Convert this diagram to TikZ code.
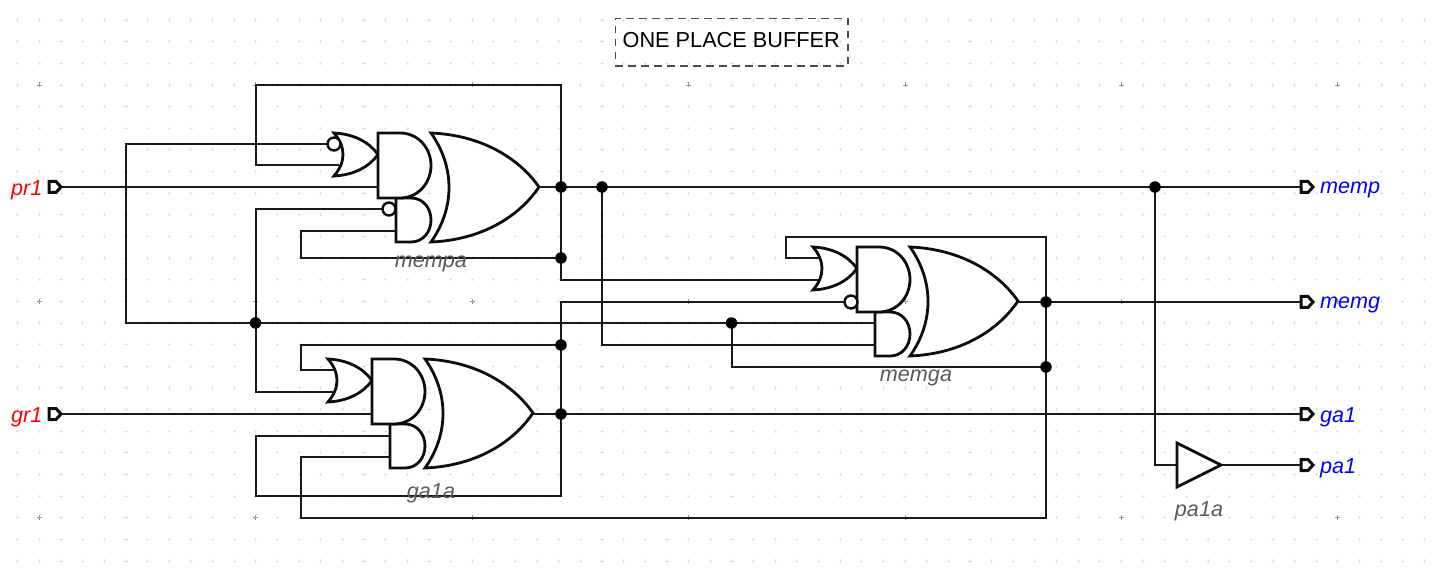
\documentclass[tikz,border=0pt]{standalone}
\usepackage{fontspec}
\setmainfont{Liberation Sans}
\definecolor{inred}{RGB}{255,0,0}
\definecolor{outblue}{RGB}{0,0,255}
\definecolor{lblgray}{RGB}{90,90,90}
\definecolor{minorgrid}{RGB}{226,226,226}
\definecolor{majorgrid}{RGB}{150,150,150}
\tikzset{
  x=1pt,y=-1pt,
  wire/.style={line width=2pt,color=black!90,line join=miter},
  gateline/.style={line width=2.8pt,draw=black!95,fill=white,line join=miter},
  junction/.style={circle,fill=black,inner sep=0pt,minimum size=11.5pt},
  bubble/.style={circle,draw=black!95,line width=2.4pt,fill=white,inner sep=0pt,minimum size=13pt},
  pinshape/.style={line width=3pt,draw=black!95,fill=white,line join=miter},
  gatelabel/.style={font=\itshape\fontsize{21.6}{24}\selectfont,text=lblgray,inner sep=0pt},
  inlabel/.style={font=\itshape\fontsize{21.6}{24}\selectfont,text=inred,anchor=east,inner sep=0pt},
  outlabel/.style={font=\itshape\fontsize{21.6}{24}\selectfont,text=outblue,anchor=west,inner sep=0pt},
  titlebox/.style={draw=black!70,dashed,dash pattern=on 7.5pt off 5.5pt,line width=1.3pt,minimum width=232.5pt,minimum height=47.5pt,inner sep=0pt},
  titletext/.style={inner sep=0pt,font=\fontsize{21.7}{24}\selectfont},
  compound/.pic={
    % small OR
    \draw[gateline] (-44,0) .. controls (-24,1) and (-9,9) .. (0,21.5)
       .. controls (-9,34) and (-24,42) .. (-44,43)
       .. controls (-32,29) and (-32,14) .. cycle;
    % small AND
    \draw[gateline] (18,65) -- (18,109) -- (33,109) .. controls (45,109) and (53,99) .. (53,87)
       .. controls (53,75) and (45,65) .. (33,65) -- cycle;
    % large AND
    \draw[gateline] (0,0) -- (0,65) -- (22,65) .. controls (40,65) and (53,50) .. (53,32.5)
       .. controls (53,15) and (40,0) .. (22,0) -- cycle;
    % large OR
    \draw[gateline] (53,0) .. controls (102,2) and (140,24) .. (161,54)
       .. controls (140,85) and (102,107) .. (53,109)
       .. controls (77,75) and (77,34) .. cycle;
  },
  pinpic/.pic={
    \draw[pinshape] (0,-5.5) -- (7,-5.5) -- (12,0) -- (7,5.5) -- (0,5.5) -- cycle;
  }
}
\begin{document}
\begin{tikzpicture}
\useasboundingbox (0,0) rectangle (1454,577);
% grid
\path[draw=minorgrid,line width=0.9pt]
  \foreach \i in {0,...,65} { \foreach \j in {0,...,26} {
    ({17.8+21.64*\i-1.6},{-1.6+21.64*\j}) -- ++(3.2,0)
    ({17.8+21.64*\i},{-3.2+21.64*\j}) -- ++(0,3.2)
  }};
\path[draw=majorgrid,line width=0.8pt]
  \foreach \i in {0,...,6} { \foreach \j in {0,1,2} {
    ({39.4+216.4*\i-2.5},{85+216.4*\j}) -- ++(5,0)
    ({39.4+216.4*\i},{85+216.4*\j-2.5}) -- ++(0,5)
  }};
% title
\node[titlebox] (title) at (731.7,42.2) {};
\node[titletext] (titlelabel) at (731.2,40.2) {ONE PLACE BUFFER};
% placement coordinates
\coordinate (J1) at (561,187);
\coordinate (J2) at (602,187);
\coordinate (J3) at (1155,187);
\coordinate (J4) at (561,258);
\coordinate (J5) at (1046,302);
\coordinate (J6) at (255.5,323);
\coordinate (J7) at (731.5,323);
\coordinate (J8) at (561,345);
\coordinate (J9) at (1046,367);
\coordinate (J10) at (561,414);
\coordinate (INpr) at (49,187);
\coordinate (INgr) at (49,414);
\coordinate (OUTmemp) at (1301,187);
\coordinate (OUTmemg) at (1301,302);
\coordinate (OUTga) at (1301,414);
\coordinate (OUTpa) at (1301,465);
\coordinate (TL) at (255.5,85);
\coordinate (TR) at (561,85);
\coordinate (B1) at (561,496);
\coordinate (B2) at (255.5,496);
\coordinate (B3) at (1046,518);
\coordinate (B4) at (301,518);
\coordinate (L1) at (126,144);
\coordinate (L2) at (126,323);
% wires
\draw[wire] (INpr) -- (378,187);
\draw[wire] (J1) -- (TR) -- (TL) -- (255.5,165) -- (339,165);
\draw[wire] (334,144) -- (L1) -- (L2) -- (875,323);
\draw[wire] (389,209) -- (255.5,209) -- (255.5,392) -- (333,392);
\draw[wire] (396,231) -- (301,231) -- (301,258) -- (J4);
\draw[wire] (539,187) -- (OUTmemp);
\draw[wire] (J1) -- (561,280) -- (822,280);
\draw[wire] (J2) -- (602,345) -- (875,345);
\draw[wire] (851,302) -- (561,302) -- (B1) -- (B2) -- (255.5,436) -- (390,436);
\draw[wire] (J8) -- (301,345) -- (301,370) -- (335,370);
\draw[wire] (INgr) -- (372,414);
\draw[wire] (533,414) -- (OUTga);
\draw[wire] (390,457) -- (301,457) -- (B4) -- (B3) -- (1046,237) -- (786,237) -- (786,258) -- (822,258);
\draw[wire] (1018,302) -- (OUTmemg);
\draw[wire] (J7) -- (731.5,367) -- (J9);
\draw[wire] (J3) -- (1155,465) -- (1177,465);
\draw[wire] (1221,465) -- (OUTpa);
% gates
\pic at (378,133) {compound};
\pic at (857,247) {compound};
\pic at (372,359) {compound};
\draw[gateline] (1177,443) -- (1221,465) -- (1177,487) -- cycle;
% bubbles
\node[bubble] (b1) at (334,144) {};
\node[bubble] (b2) at (389,209) {};
\node[bubble] (b3) at (851,302) {};
% junctions
\foreach \n in {J1,J2,J3,J4,J5,J6,J7,J8,J9,J10} \node[junction] at (\n) {};
% pins
\pic at (INpr) {pinpic};
\pic at (INgr) {pinpic};
\pic at (OUTmemp) {pinpic};
\pic at (OUTmemg) {pinpic};
\pic at (OUTga) {pinpic};
\pic at (OUTpa) {pinpic};
% labels
\node[inlabel] (lpr) at (42.5,190) {pr1};
\node[inlabel] (lgr) at (42.5,417) {gr1};
\node[outlabel] (lmemp) at (1320,190) {memp};
\node[outlabel] (lmemg) at (1320,304.5) {memg};
\node[outlabel] (lga) at (1320,417) {ga1};
\node[outlabel] (lpa) at (1320,468) {pa1};
\node[gatelabel] (n1) at (431,263.5) {mempa};
\node[gatelabel] (n2) at (916,377.5) {memga};
\node[gatelabel] (n3) at (431,493) {ga1a};
\node[gatelabel] (n4) at (1199,511) {pa1a};
\end{tikzpicture}
\end{document}
